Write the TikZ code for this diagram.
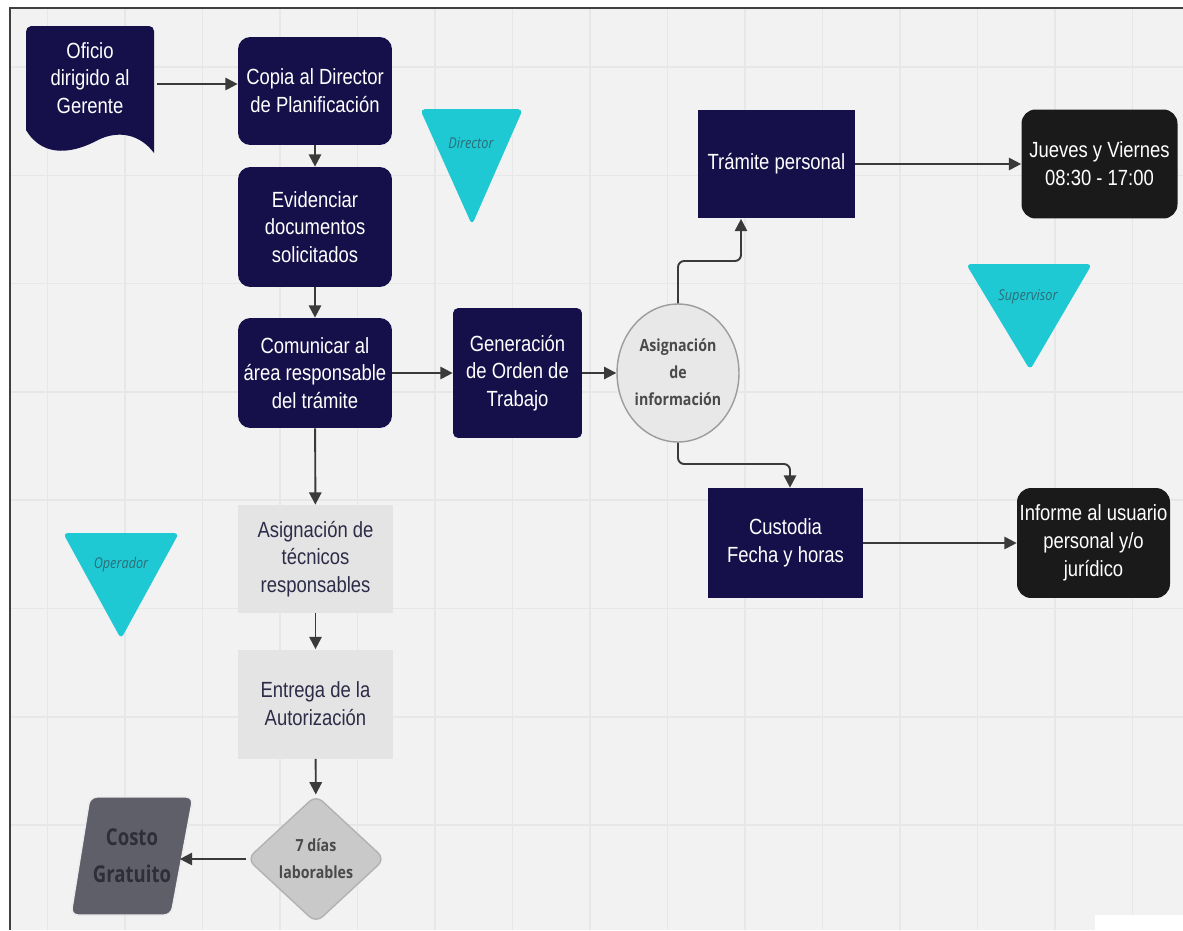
\documentclass[tikz,border=0pt]{standalone}
\usepackage{fontspec}
\setmainfont[FakeStretch=0.84]{Liberation Sans}
\newfontfamily\osfont[FakeStretch=0.85]{Open Sans}
\newfontfamily\osfontc[FakeStretch=0.8]{Open Sans}
\usetikzlibrary{shapes.geometric,arrows.meta}
\definecolor{bgc}{HTML}{F2F2F2}
\definecolor{gridc}{HTML}{E7E7E7}
\definecolor{navyc}{HTML}{16104A}
\definecolor{blackc}{HTML}{1A1A1A}
\definecolor{lightc}{HTML}{E4E4E4}
\definecolor{lighttext}{HTML}{2D2C48}
\definecolor{circfill}{HTML}{E8E8E8}
\definecolor{circdraw}{HTML}{9C9C9C}
\definecolor{diafill}{HTML}{C9C9C9}
\definecolor{diadraw}{HTML}{B2B2B2}
\definecolor{costfill}{HTML}{5F5F6A}
\definecolor{costtext}{HTML}{2E2E38}
\definecolor{cyanc}{HTML}{1FC9D4}
\definecolor{tritext}{HTML}{2A6E78}
\definecolor{linec}{HTML}{3A3A3A}
\definecolor{boldgray}{HTML}{4A4A4A}
\newcommand{\mfs}{\fontsize{12.5}{15.8}\selectfont}
\begin{document}
\begin{tikzpicture}[x=0.02cm,y=-0.02cm,
  navybox/.style={fill=navyc,text=white,align=center,font=\mfs,inner sep=0pt},
  blackbox/.style={fill=blackc,text=white,align=center,font=\mfs,inner sep=0pt,rounded corners=8pt},
  lightbox/.style={fill=lightc,text=lighttext,align=center,font=\mfs,inner sep=0pt},
  boldlbl/.style={text=boldgray,align=center,font=\osfont\bfseries\fontsize{9.5}{15.3}\selectfont,inner sep=0pt},
  trilbl/.style={text=tritext,font=\osfont\itshape\fontsize{8.5}{10}\selectfont,inner sep=0pt},
  conn/.style={draw=linec,line width=1.1pt,-{Triangle[length=7pt,width=7pt]}},
  tri/.style={fill=cyanc,rounded corners=3pt}]
\useasboundingbox (0,0) rectangle (1183,930);
\fill[white] (0,0) rectangle (1183,930);
\fill[bgc] (10,8) rectangle (1183,930);
\foreach \gx in {47.5,125,...,1183} \draw[gridc,line width=0.9pt] (\gx,8) -- (\gx,930);
\foreach \gy in {67,175.3,...,930} \draw[gridc,line width=0.9pt] (10,\gy) -- (1183,\gy);
\draw[black!75,line width=0.8pt] (10,930) -- (10,8) -- (1183,8);
\fill[white] (1095,915) rectangle (1183,930);

% Oficio (document shape)
\fill[navyc] (26,130) -- (26,32) to[out=90,in=180] (31,26) -- (149,26) to[out=0,in=90] (154,31) -- (154,153)
  .. controls (140,134) and (118,130) .. (98,140)
  .. controls (76,152) and (44,160) .. (26,130) -- cycle;
\node[navybox,fill=none,minimum width=2.56cm,minimum height=2.1cm] (oficio) at (90,78) {Oficio\\dirigido al\\Gerente};

% left column
\node[navybox,rounded corners=7pt,minimum width=3.08cm,minimum height=2.16cm] (copia) at (315,91) {Copia al Director\\de Planificación};
\node[navybox,rounded corners=7pt,minimum width=3.08cm,minimum height=2.4cm] (evid) at (315,227) {Evidenciar\\documentos\\solicitados};
\node[navybox,rounded corners=7pt,minimum width=3.08cm,minimum height=2.2cm] (comun) at (315,373) {Comunicar al\\área responsable\\del trámite};
\node[lightbox,minimum width=3.12cm,minimum height=2.16cm] (tecn) at (315.5,559) {Asignación de\\técnicos\\responsables};
\node[lightbox,minimum width=3.12cm,minimum height=2.18cm] (entrega) at (315.5,704) {Entrega de la\\Autorización};
\node[diamond,fill=diafill,draw=diadraw,line width=0.8pt,minimum width=2.76cm,minimum height=2.56cm,inner sep=0pt,rounded corners=5pt] (dias) at (316,859) {};
\node[boldlbl] (diaslbl) at (316,859) {7 días\\laborables};

% Costo Gratuito (parallelogram)
\fill[costfill,draw=white!85!gray,line width=0.8pt,rounded corners=4pt] (71,915) -- (90,797) -- (193,797) -- (171,915) -- cycle;
\node[inner sep=0pt,minimum width=1.9cm,minimum height=2.3cm,text=costtext,align=center,font=\osfontc\bfseries\fontsize{13.2}{21}\selectfont] (costo) at (132,856) {Costo\\Gratuito};

% middle
\node[navybox,rounded corners=3pt,minimum width=2.58cm,minimum height=2.6cm] (orden) at (517.5,373) {Generación\\de Orden de\\Trabajo};
\node[ellipse,fill=circfill,draw=circdraw,line width=0.8pt,minimum width=2.44cm,minimum height=2.76cm,inner sep=0pt] (asig) at (678,373) {};
\node[boldlbl] (asiglbl) at (678,372) {Asignación\\de\\información};

% right
\node[navybox,minimum width=3.14cm,minimum height=2.18cm] (tramite) at (776.5,164) {Trámite personal};
\node[blackbox,minimum width=3.12cm,minimum height=2.18cm] (jueves) at (1099.5,164) {Jueves y Viernes\\08:30 - 17:00};
\node[navybox,minimum width=3.1cm,minimum height=2.2cm] (custodia) at (785.5,543) {Custodia\\Fecha y horas};
\node[blackbox,minimum width=3.06cm,minimum height=2.2cm] (informe) at (1093.5,543) {Informe al usuario\\personal y/o\\jurídico};

% triangles
\fill[tri] (420,109) -- (523,109) -- (472,225) -- cycle;
\node[trilbl] (director) at (471,143) {Director};
\fill[tri] (966,264) -- (1092,264) -- (1030,370) -- cycle;
\node[trilbl] (supervisor) at (1028,297) {Supervisor};
\fill[tri] (63,533) -- (179,533) -- (121,639) -- cycle;
\node[trilbl] (operador) at (121,565) {Operador};

% connectors
\draw[conn] (oficio.east |- 0,84) ++(3,0) -- (copia.west |- 0,84);
\draw[conn] (copia) -- (evid);
\draw[conn] (evid) -- (comun);
\draw[conn] (comun) -- (orden);
\draw[conn] (orden) -- (asig);
\draw[conn] (comun) -- (tecn);
\draw[conn] (tecn) -- (entrega);
\draw[conn] (entrega) -- (dias);
\draw[conn] (dias.west) -- (costo.east |- dias.west);
\draw[conn,rounded corners=3.5pt] (asig.north) -- (678,261) -- (741,261) -- (tramite.south -| 741,0);
\draw[conn,rounded corners=3.5pt] (asig.south) -- (678,464) -- (790,464) -- (custodia.north -| 790,0);
\draw[conn] (tramite) -- (jueves);
\draw[conn] (custodia) -- (informe);
\end{tikzpicture}
\end{document}
